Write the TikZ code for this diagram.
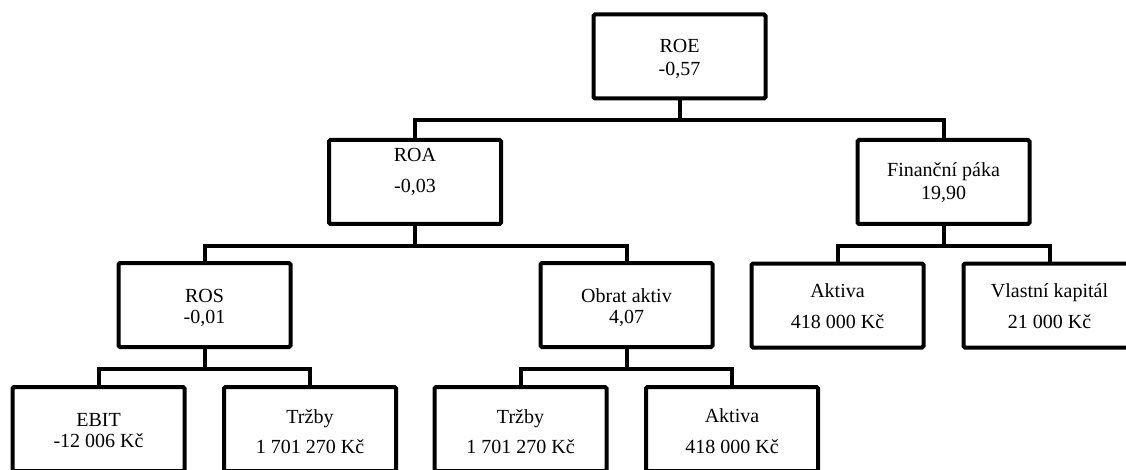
\documentclass[tikz,border=0pt]{standalone}
\usepackage{fontspec}
\setmainfont{Liberation Serif}
\begin{document}
\begin{tikzpicture}[x=1pt,y=-1pt,
  box/.style={draw=black, line width=4pt, minimum width=172pt, minimum height=84pt, inner sep=0pt, rounded corners=1.5pt},
  conn/.style={draw=black, line width=4pt},
  lbl/.style={anchor=base, inner sep=0pt, font=\fontsize{20}{24}\selectfont}]
\path[use as bounding box] (0,0) rectangle (1126,470);
\clip (0,0) rectangle (1126,470);
% boxes
\node[box] (roe)   at (679.5,56.5) {};
\node[box] (roa)   at (415,182) {};
\node[box] (fin)   at (943.5,182) {};
\node[box] (ros)   at (204.5,305) {};
\node[box] (obrat) at (626.5,305) {};
\node[box] (aktf)  at (837.5,305.5) {};
\node[box] (vlast) at (1049.5,305.5) {};
\node[box] (ebit)  at (98.5,429) {};
\node[box] (trz1)  at (310,429) {};
\node[box] (trz2)  at (520.5,429) {};
\node[box] (akt2)  at (732,429) {};
% labels
\node[lbl] (roeA) at (679.5,53) {ROE};
\node[lbl] (roeB) at (679.5,76) {-0,57};
\node[lbl] (roaA) at (415,162) {ROA};
\node[lbl] (roaB) at (415,193) {-0,03};
\node[lbl] (finA) at (943.5,177) {Finanční páka};
\node[lbl] (finB) at (943.5,200) {19,90};
\node[lbl] (rosA) at (204.5,302) {ROS};
\node[lbl] (rosB) at (204.5,323) {-0,01};
\node[lbl] (obrA) at (626.5,302) {Obrat aktiv};
\node[lbl] (obrB) at (626.5,323) {4,07};
\node[lbl] (aktfA) at (837.5,297) {Aktiva};
\node[lbl] (aktfB) at (837.5,328) {418 000 Kč};
\node[lbl] (vlaA) at (1049.5,297) {Vlastní kapitál};
\node[lbl] (vlaB) at (1049.5,328) {21 000 Kč};
\node[lbl] (ebA) at (98.5,426) {EBIT};
\node[lbl] (ebB) at (98.5,447) {-12 006 Kč};
\node[lbl] (t1A) at (310,423) {Tržby};
\node[lbl] (t1B) at (310,453) {1 701 270 Kč};
\node[lbl] (t2A) at (520.5,423) {Tržby};
\node[lbl] (t2B) at (520.5,453) {1 701 270 Kč};
\node[lbl] (a2A) at (732,422) {Aktiva};
\node[lbl] (a2B) at (732,453) {418 000 Kč};
% connectors
\draw[conn] (roe.south) -- ++(0,19.5) -| (roa.north);
\draw[conn] (roe.south) -- ++(0,19.5) -| (fin.north);
\draw[conn] (roa.south) -- ++(0,20) -| (ros.north);
\draw[conn] (roa.south) -- ++(0,20) -| (obrat.north);
\draw[conn] (fin.south) -- ++(0,20) -| (aktf.north);
\draw[conn] (fin.south) -- ++(0,20) -| (vlast.north);
\draw[conn] (ros.south) -- ++(0,20) -| (ebit.north);
\draw[conn] (ros.south) -- ++(0,20) -| (trz1.north);
\draw[conn] (obrat.south) -- ++(0,20) -| (trz2.north);
\draw[conn] (obrat.south) -- ++(0,20) -| (akt2.north);
\end{tikzpicture}
\end{document}
